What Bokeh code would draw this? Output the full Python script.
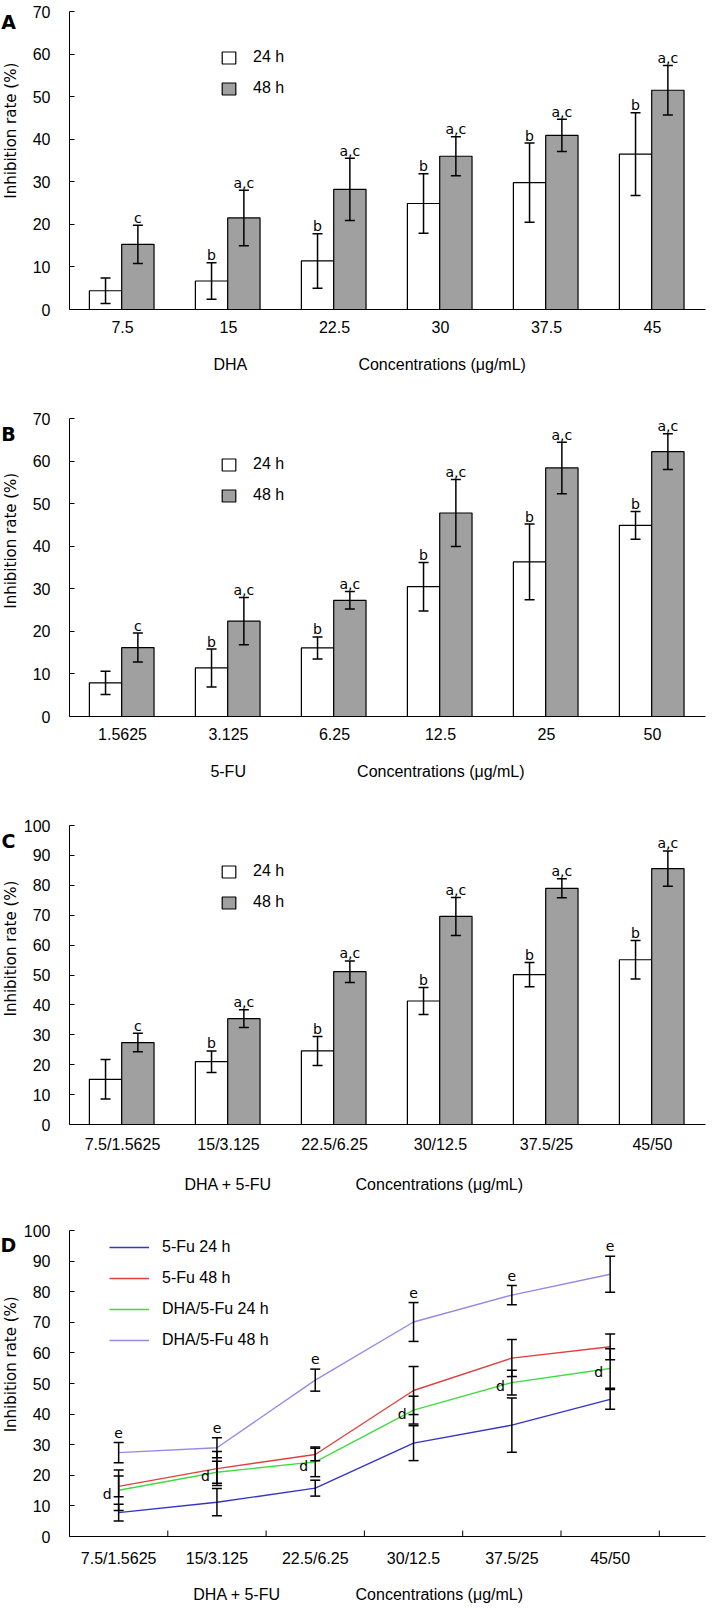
import numpy as np
from bokeh.plotting import figure
from bokeh.models import (Range1d, FixedTicker, Whisker, ColumnDataSource, Legend,
                          LegendItem, TeeHead)
from bokeh.layouts import column, row
from bokeh.embed import file_html
from bokeh.resources import INLINE
from bokeh.core.properties import value

# ---------------- data ----------------
dha_conc = ["7.5", "15", "22.5", "30", "37.5", "45"]
fu_conc = ["1.5625", "3.125", "6.25", "12.5", "25", "50"]
combo_conc = ["7.5/1.5625", "15/3.125", "22.5/6.25", "30/12.5", "37.5/25", "45/50"]

dha_24_mean = [4.4, 6.7, 11.4, 24.9, 29.8, 36.5]
dha_24_sd = [3.0, 4.3, 6.4, 7.0, 9.3, 9.7]
dha_48_mean = [15.3, 21.5, 28.2, 36.0, 40.9, 51.5]
dha_48_sd = [4.5, 6.5, 7.3, 4.6, 3.8, 5.8]
dha_24_sig = ["", "b", "b", "b", "b", "b"]
dha_48_sig = ["c", "a,c", "a,c", "a,c", "a,c", "a,c"]

fu_24_mean = [7.9, 11.4, 16.1, 30.5, 36.3, 44.9]
fu_24_sd = [2.75, 4.45, 2.6, 5.7, 8.9, 3.25]
fu_48_mean = [16.2, 22.4, 27.3, 47.8, 58.4, 62.2]
fu_48_sd = [3.4, 5.55, 2.05, 7.85, 6.05, 4.2]
fu_24_sig = ["", "b", "b", "b", "b", "b"]
fu_48_sig = ["c", "a,c", "a,c", "a,c", "a,c", "a,c"]

combo_24_mean = [15.1, 21.0, 24.6, 41.3, 50.1, 55.1]
combo_24_sd = [6.6, 3.6, 4.85, 4.55, 4.05, 6.45]
combo_48_mean = [27.4, 35.4, 51.1, 69.6, 79.0, 85.6]
combo_48_sd = [3.1, 2.95, 3.6, 6.35, 3.15, 5.9]
combo_24_sig = ["", "b", "b", "b", "b", "b"]
combo_48_sig = ["c", "a,c", "a,c", "a,c", "a,c", "a,c"]

# panel D (line chart)
d_fu_24 = [7.8, 11.2, 15.8, 30.5, 36.4, 44.8]
d_fu_24_sd = [2.75, 4.45, 2.6, 5.7, 8.9, 3.25]
d_fu_48 = [16.4, 22.2, 26.8, 47.7, 58.3, 62.0]
d_fu_48_sd = [3.4, 5.55, 2.05, 7.85, 6.05, 4.2]
d_combo_24 = [15.1, 21.0, 24.4, 41.3, 50.3, 54.9]
d_combo_24_sd = [6.6, 3.6, 4.85, 4.55, 4.05, 6.45]
d_combo_48 = [27.4, 29.0, 51.1, 70.1, 78.9, 85.7]
d_combo_48_sd = [3.3, 3.25, 3.6, 6.35, 3.15, 5.9]
d_sig_24 = ["d", "d", "d", "d", "d", "d"]
d_sig_48 = ["e", "e", "e", "e", "e", "e"]

# ---------------- styling ----------------
STRIP_W = 20
MAIN_W = 687
FRAME_L = 49
FRAME_W = 636
FONT = "Liberation Sans"
SANS = "DejaVu Sans"
TICK_FS = "16px"
ANN_FS = "14px"
GRAY = "#a0a0a0"
NB = "\u00a0"
Y_LABEL = "Inhibition rate (%)"
CONC = "Concentrations (\u03bcg/mL)"


def side_strip(height, top, frame_h, letter):
    s = figure(width=STRIP_W, height=height, x_range=Range1d(0, STRIP_W),
               y_range=Range1d(0, height), x_axis_type=None, y_axis_type=None,
               output_backend="svg", toolbar_location=None, min_border=0)
    s.outline_line_color = None
    s.grid.visible = False
    s.text(x=[8], y=[height - (top + 3)], text=[letter], text_font=value(SANS),
           text_font_style="bold", text_font_size="19px", text_align="center",
           text_baseline="middle", text_color="black")
    s.text(x=[10], y=[height - (top + frame_h / 2)], text=[Y_LABEL], angle=np.pi / 2,
           text_font=value(SANS), text_font_size="15px", text_align="center",
           text_baseline="middle", text_color="black")
    return s


def base_fig(height, top, frame_h, xmax, ymax, ystep):
    bottom = height - top - frame_h
    p = figure(width=MAIN_W, height=height,
               x_range=Range1d(0, xmax), y_range=Range1d(0, ymax),
               output_backend="svg", toolbar_location=None,
               min_border_left=FRAME_L, min_border_right=MAIN_W - FRAME_L - FRAME_W,
               min_border_top=top, min_border_bottom=bottom)
    p.outline_line_color = None
    p.grid.visible = False
    p.background_fill_color = "white"
    p.border_fill_color = "white"
    ya = p.yaxis[0]
    ya.ticker = FixedTicker(ticks=list(range(0, ymax + 1, ystep)))
    ya.major_tick_in = 5
    ya.major_tick_out = 0
    ya.minor_tick_line_color = None
    ya.axis_line_color = "black"
    ya.major_tick_line_color = "black"
    ya.major_label_text_font = FONT
    ya.major_label_text_font_size = TICK_FS
    ya.major_label_text_color = "black"
    ya.major_label_standoff = 19
    xa = p.xaxis[0]
    xa.minor_tick_line_color = None
    xa.major_tick_in = 0
    xa.major_tick_out = 0
    xa.axis_line_color = "black"
    xa.major_label_text_font = FONT
    xa.major_label_text_font_size = TICK_FS
    xa.major_label_text_color = "black"
    xa.major_label_standoff = 11
    xa.axis_label_text_font = FONT
    xa.axis_label_text_font_size = TICK_FS
    xa.axis_label_text_font_style = "normal"
    xa.axis_label_text_color = "black"
    xa.axis_label_standoff = 20
    return p


def x_title(left, gap, trail):
    return left + NB * gap + CONC + NB * trail


def bar_panel(height, top, frame_h, ymax, cats, m24, s24, m48, s48, sig24, sig48,
              letter, title):
    xmax = len(cats)
    p = base_fig(height, top, frame_h, xmax, ymax, 10)
    ppy = frame_h / ymax
    centers = np.arange(len(cats)) + 0.5
    p.xaxis[0].ticker = FixedTicker(ticks=list(centers))
    p.xaxis[0].major_label_overrides = {float(c): lab for c, lab in zip(centers, cats)}
    p.xaxis[0].axis_label = title

    x24 = centers - 0.16
    x48 = centers + 0.145
    m24 = np.array(m24); s24 = np.array(s24)
    m48 = np.array(m48); s48 = np.array(s48)
    src24 = ColumnDataSource(dict(x=x24, top=m24, upper=m24 + s24, lower=m24 - s24,
                                  lab=sig24, ly=m24 + s24 + 7.5 / ppy))
    src48 = ColumnDataSource(dict(x=x48, top=m48, upper=m48 + s48, lower=m48 - s48,
                                  lab=sig48, ly=m48 + s48 + 7.5 / ppy))
    r24 = p.vbar(x="x", top="top", width=0.305, bottom=0, source=src24,
                 fill_color="white", line_color="black", line_width=1.2)
    r48 = p.vbar(x="x", top="top", width=0.305, bottom=0, source=src48,
                 fill_color=GRAY, line_color="black", line_width=1.2)
    for src in (src24, src48):
        w = Whisker(source=src, base="x", upper="upper", lower="lower",
                    line_color="black", line_width=1.5, level="annotation",
                    upper_head=TeeHead(size=10, line_color="black", line_width=1.5),
                    lower_head=TeeHead(size=10, line_color="black", line_width=1.5))
        p.add_layout(w)
        p.text(x="x", y="ly", text="lab", source=src, text_font=value(SANS),
               text_font_size=ANN_FS, text_align="center", text_baseline="alphabetic",
               text_color="black")

    leg = Legend(items=[LegendItem(label="24 h", renderers=[r24]),
                        LegendItem(label="48 h", renderers=[r48])],
                 location=(151, frame_h - 88), orientation="vertical")
    leg.border_line_color = None
    leg.background_fill_alpha = 0
    leg.padding = 0
    leg.margin = 0
    leg.spacing = 9
    leg.glyph_width = 17
    leg.glyph_height = 15
    leg.label_height = 22
    leg.label_standoff = 16
    leg.label_text_font = FONT
    leg.label_text_font_size = TICK_FS
    leg.label_text_color = "black"
    p.add_layout(leg)

    return row(side_strip(height, top, frame_h, letter), p, spacing=0)


rowA = bar_panel(400, 11, 298, 70, dha_conc, dha_24_mean, dha_24_sd, dha_48_mean,
                 dha_48_sd, dha_24_sig, dha_48_sig, "A", x_title("DHA", 25, 8))
rowB = bar_panel(407, 18, 298, 70, fu_conc, fu_24_mean, fu_24_sd, fu_48_mean,
                 fu_48_sd, fu_24_sig, fu_48_sig, "B", x_title("5-FU", 25, 9))
rowC = bar_panel(407, 18, 299, 100, combo_conc, combo_24_mean, combo_24_sd, combo_48_mean,
                 combo_48_sd, combo_24_sig, combo_48_sig, "C", x_title("DHA + 5-FU", 19, 15))

# ---------------- panel D ----------------
D_H, D_TOP, D_FH = 391, 16, 310
D_XMAX = 6.47
pD = base_fig(D_H, D_TOP, D_FH, D_XMAX, 100, 10)
ppx_d = FRAME_W / D_XMAX
ppy_d = D_FH / 100
centers = np.arange(len(combo_conc)) + 0.5
pD.xaxis[0].ticker = FixedTicker(ticks=list(centers))
pD.xaxis[0].major_label_overrides = {float(c): lab for c, lab in zip(centers, combo_conc)}
pD.xaxis[0].major_label_standoff = 13
pD.xaxis[0].axis_label_standoff = 16
pD.xaxis[0].axis_label = x_title("DHA + 5-FU", 17, 13)
# inward category separators on the x axis
sep = np.arange(1, len(combo_conc) + 1)
pD.segment(x0=sep, y0=0, x1=sep, y1=6 / ppy_d, line_color="black", line_width=1)

series = [
    ("5-Fu 24 h", d_fu_24, d_fu_24_sd, "#3434c8"),
    ("5-Fu 48 h", d_fu_48, d_fu_48_sd, "#e04040"),
    ("DHA/5-Fu 24 h", d_combo_24, d_combo_24_sd, "#40dc40"),
    ("DHA/5-Fu 48 h", d_combo_48, d_combo_48_sd, "#9a88e6"),
]
items = []
for name, vals, sds, col in series:
    vals = np.array(vals); sds = np.array(sds)
    src = ColumnDataSource(dict(x=centers, y=vals, upper=vals + sds, lower=vals - sds))
    r = pD.line(x="x", y="y", source=src, line_color=col, line_width=1.4)
    items.append(LegendItem(label=name, renderers=[r]))
    w = Whisker(source=src, base="x", upper="upper", lower="lower",
                line_color="black", line_width=1.5, level="annotation",
                upper_head=TeeHead(size=10, line_color="black", line_width=1.5),
                lower_head=TeeHead(size=10, line_color="black", line_width=1.5))
    pD.add_layout(w)

c24 = np.array(d_combo_24)
c48 = np.array(d_combo_48) + np.array(d_combo_48_sd)
pD.text(x=centers - 7 / ppx_d, y=c24 - 1.2, text=d_sig_24, text_font=value(SANS),
        text_font_size=ANN_FS, text_align="right", text_baseline="middle",
        text_color="black")
pD.text(x=centers, y=c48 + 10 / ppy_d, text=d_sig_48, text_font=value(SANS),
        text_font_size=ANN_FS, text_align="center", text_baseline="alphabetic",
        text_color="black")

legD = Legend(items=items, location=(40, D_FH - 125), orientation="vertical")
legD.border_line_color = None
legD.background_fill_alpha = 0
legD.padding = 0
legD.margin = 0
legD.spacing = 9
legD.glyph_width = 40
legD.glyph_height = 22
legD.label_height = 22
legD.label_standoff = 13
legD.label_text_font = FONT
legD.label_text_font_size = TICK_FS
legD.label_text_color = "black"
pD.add_layout(legD)

rowD = row(side_strip(D_H, D_TOP, D_FH, "D"), pD, spacing=0)

layout = column(rowA, rowB, rowC, rowD, spacing=0)
open("out.html", "w").write(file_html(layout, INLINE))
